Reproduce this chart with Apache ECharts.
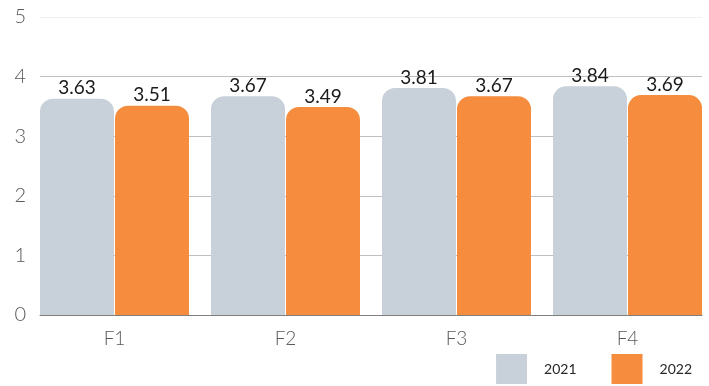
<!DOCTYPE html>
<html>
<head>
<meta charset="utf-8">
<script src="https://cdn.jsdelivr.net/npm/echarts@6/dist/echarts.min.js"></script>
<style>
html,body{margin:0;padding:0;background:#fff;}
#chart{width:709px;height:386px;}
</style>
</head>
<body>
<div id="chart"></div>
<script>
const categories = ['F1', 'F2', 'F3', 'F4'];
const seriesNames = ['2021', '2022'];
const values2021 = [3.63, 3.67, 3.81, 3.84];
const values2022 = [3.51, 3.49, 3.67, 3.69];
const yTicks = [0, 1, 2, 3, 4, 5];

const FONT = 'Lato';
const chart = echarts.init(document.getElementById('chart'), null, {renderer: 'canvas'});

const labelStyle = {
  show: true,
  position: 'top',
  distance: 1,
  fontFamily: FONT,
  fontWeight: 'normal',
  fontSize: 19,
  color: '#1a1a1a',
  formatter: p => p.value.toFixed(2)
};

chart.setOption({
  animation: false,
  backgroundColor: '#ffffff',
  grid: [
    {left: 40, right: 7, top: 17, bottom: 71, outerBoundsMode: 'none', containLabel: false},
    {left: 29, width: 684, top: 17, bottom: 71, outerBoundsMode: 'none', containLabel: false}
  ],
  legend: {
    data: seriesNames,
    right: 17,
    bottom: 2,
    padding: 0,
    icon: 'rect',
    itemWidth: 31,
    itemHeight: 30,
    itemGap: 35,
    textStyle: {fontFamily: FONT, fontSize: 14, color: '#262626', padding: [0, 0, 0, 12]}
  },
  xAxis: [
    {
      type: 'category', gridIndex: 0, data: categories,
      axisLine: {show: true, lineStyle: {color: '#7f7f7f', width: 1}},
      axisTick: {show: false},
      axisLabel: {show: false},
      splitLine: {show: false}
    },
    {
      type: 'category', gridIndex: 1, data: categories,
      axisLine: {show: false},
      axisTick: {show: false},
      axisLabel: {fontFamily: FONT, fontWeight: 300, fontSize: 19, color: '#595959', margin: 14},
      splitLine: {show: false}
    }
  ],
  yAxis: [
    {
      type: 'value', gridIndex: 0, min: yTicks[0], max: yTicks[yTicks.length - 1], interval: 1,
      axisLine: {show: false},
      axisTick: {show: false},
      axisLabel: {fontFamily: FONT, fontWeight: 300, fontSize: 20, color: '#595959', margin: 14},
      splitLine: {show: true, lineStyle: {color: ['#bfbfbf', '#bfbfbf', '#bfbfbf', '#bfbfbf', '#bfbfbf', '#eef2f6'], width: 1}}
    },
    {
      type: 'value', gridIndex: 1, min: yTicks[0], max: yTicks[yTicks.length - 1], interval: 1,
      show: false,
      splitLine: {show: false}
    }
  ],
  series: [
    {
      name: seriesNames[0], type: 'bar', xAxisIndex: 1, yAxisIndex: 1,
      data: values2021,
      barCategoryGap: '12.87%',
      barGap: '1.4%',
      itemStyle: {color: '#c8d0d9', borderRadius: [13, 13, 0, 0]},
      label: labelStyle
    },
    {
      name: seriesNames[1], type: 'bar', xAxisIndex: 1, yAxisIndex: 1,
      data: values2022,
      barCategoryGap: '12.87%',
      barGap: '1.4%',
      itemStyle: {color: '#f58c3e', borderRadius: [13, 13, 0, 0]},
      label: labelStyle
    }
  ]
});
</script>
</body>
</html>
